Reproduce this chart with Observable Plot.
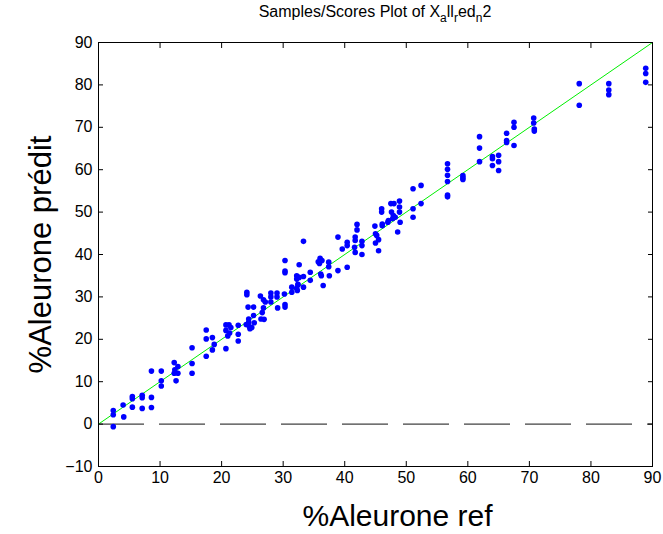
<!DOCTYPE html>
<html>
<head>
<meta charset="utf-8">
<script src="https://cdn.jsdelivr.net/npm/d3@7"></script>
<script src="https://cdn.jsdelivr.net/npm/@observablehq/plot@0.6"></script>
<style>
  html, body { margin: 0; padding: 0; background: #fff; }
  #wrap { position: relative; width: 663px; height: 534px; font-family: "Liberation Sans", Arial, Helvetica, sans-serif; }
  #title { position: absolute; left: 98px; width: 554px; top: 3px; text-align: center; font-size: 16px; color: #000; white-space: nowrap; }
  #title sub { font-size: 12px; vertical-align: -5px; line-height: 0; }
</style>
</head>
<body>
<div id="wrap">
  <div id="title">Samples/Scores Plot of X<sub>a</sub>ll<sub>r</sub>ed<sub>n</sub>2</div>
</div>
<script>
// reference values (x) and predicted values (y)
const refValues = [
  2.4, 2.4, 2.4, 4.0, 4.1, 5.5, 5.5, 5.5, 7.1, 7.1, 7.1, 8.6, 8.6, 8.6,
  10.2, 10.2, 10.2, 12.3, 12.9, 12.4, 12.3, 12.9, 12.6, 15.2, 15.2, 15.2,
  17.5, 17.5, 17.5, 18.5, 18.5, 18.8,
  20.7, 21.2, 20.7, 21.3, 20.7, 21.5, 21.0, 22.7, 22.7, 22.7,
  24.1, 24.1, 24.3, 25.2, 24.0, 24.5, 24.9, 24.4, 25.3, 24.6, 24.4, 25.2,
  26.3, 26.8, 27.1, 26.6, 26.8, 26.9, 26.4,
  28.0, 28.0, 29.0, 29.0, 28.0, 29.1,
  30.2, 30.3, 30.3, 30.3, 30.3, 30.3, 31.4, 31.4,
  32.2, 32.2, 32.4, 32.2, 32.3, 32.6, 32.6, 32.4, 33.3, 33.3, 33.3, 34.4, 34.4,
  35.7, 36.0, 36.3, 35.9, 36.1, 36.2, 36.5, 37.4, 37.4, 37.5,
  38.9, 38.9, 39.6, 40.4, 40.4, 40.4,
  41.7, 41.7, 42.0, 42.0, 41.6, 41.7, 42.8, 42.8, 42.8,
  44.9, 45.0, 45.2, 45.0, 45.5, 45.5,
  46.0, 46.0, 46.1, 46.1, 47.1, 47.5, 48.0, 47.6, 47.9, 48.2, 47.8, 47.0,
  48.6, 48.9, 48.9, 48.9, 49.0,
  51.1, 51.1, 51.1, 52.4, 52.4,
  56.7, 56.7, 56.7, 56.7, 56.7, 56.7, 59.2, 59.2, 59.2,
  61.9, 61.9, 61.9, 64.0, 64.0, 64.0, 65.0, 65.0, 65.0,
  66.3, 66.3, 66.3, 67.5, 67.5, 67.5, 70.7, 70.7, 70.8, 70.8,
  78.1, 78.1, 82.9, 82.9, 82.9, 88.9, 88.9, 88.9
];
const predValues = [
  3.2, 2.2, -0.6, 4.5, 1.7, 6.5, 6.0, 4.0, 6.8, 6.2, 3.7, 12.5, 6.3, 3.9,
  12.5, 10.2, 9.0, 14.5, 13.6, 12.8, 12.0, 12.0, 10.2, 18.0, 14.3, 12.0,
  22.2, 20.1, 16.0, 20.4, 17.5, 18.8,
  23.4, 23.4, 22.1, 21.5, 17.8, 22.8, 20.8, 23.3, 21.2, 19.6,
  31.1, 30.5, 27.6, 27.6, 23.5, 23.0, 22.8, 24.0, 23.9, 22.5, 24.8, 25.6,
  30.2, 29.3, 28.8, 26.3, 27.4, 24.7, 24.8,
  30.9, 30.0, 30.9, 30.0, 28.8, 27.4,
  30.7, 28.2, 27.6, 38.6, 36.1, 35.7, 32.3, 31.1,
  35.0, 34.2, 33.0, 32.0, 31.5, 34.6, 37.6, 32.8, 43.1, 32.3, 34.8, 35.8, 33.9,
  38.3, 39.1, 38.6, 37.9, 35.4, 35.0, 32.7, 38.2, 37.1, 35.0,
  44.1, 36.2, 41.3, 42.9, 42.1, 37.0,
  44.1, 43.3, 47.1, 45.8, 41.7, 40.5, 43.1, 42.1, 40.0,
  46.7, 44.9, 44.5, 42.7, 43.5, 40.9,
  50.8, 50.0, 47.2, 46.8, 48.0, 52.0, 52.0, 50.0, 49.2, 48.8, 48.5, 47.6,
  45.3, 52.6, 51.2, 50.0, 47.6,
  55.5, 50.8, 48.8, 56.3, 52.0,
  61.4, 60.1, 58.7, 57.2, 54.0, 53.6, 58.6, 58.1, 57.7,
  67.8, 65.1, 61.9, 63.1, 62.6, 61.0, 63.4, 61.9, 59.8,
  68.6, 66.9, 66.4, 71.2, 70.0, 65.7, 72.2, 71.0, 69.6, 69.1,
  80.3, 75.2, 80.3, 78.8, 77.7, 83.9, 82.7, 80.6
];
const xTicks = [0, 10, 20, 30, 40, 50, 60, 70, 80, 90];
const yTicks = [-10, 0, 10, 20, 30, 40, 50, 60, 70, 80, 90];
const identityLine = [0, 90];
const zeroLine = [0];
const xLabel = "%Aleurone ref";
const yLabel = "%Aleurone prédit";

const samples = refValues.map((r, i) => ({ref: r, pred: predValues[i]}));
const noText = () => "";

const chart = Plot.plot({
  width: 663,
  height: 534,
  marginLeft: 98,
  marginRight: 11,
  marginTop: 42,
  marginBottom: 68,
  style: {fontFamily: '"Liberation Sans", Arial, Helvetica, sans-serif', fontSize: "16px", color: "#000", background: "transparent", overflow: "visible"},
  x: {domain: [0, 90], label: null},
  y: {domain: [-10, 90], label: null},
  marks: [
    Plot.ruleY(zeroLine, {x1: 0, x2: 90, stroke: "#111", strokeWidth: 1, strokeDasharray: "46,15"}),
    Plot.line(identityLine, {x: d => d, y: d => d, stroke: "#00ee00", strokeWidth: 1}),
    Plot.dot(samples, {x: "ref", y: "pred", r: 2.8, fill: "#0000ff", stroke: "none"}),
    Plot.frame({stroke: "#000", strokeWidth: 1}),
    // tick labels
    Plot.axisX(xTicks, {anchor: "bottom", tickSize: 0, tickPadding: 5, label: null}),
    Plot.axisY(yTicks, {anchor: "left", tickSize: 0, tickPadding: 6, label: null}),
    // inward ticks on all four sides
    Plot.axisX(xTicks, {anchor: "bottom", tickSize: -5, tickFormat: noText, label: null, stroke: "#000"}),
    Plot.axisX(xTicks, {anchor: "top", tickSize: -5, tickFormat: noText, label: null, stroke: "#000"}),
    Plot.axisY(yTicks, {anchor: "left", tickSize: -5, tickFormat: noText, label: null, stroke: "#000"}),
    Plot.axisY(yTicks, {anchor: "right", tickSize: -5, tickFormat: noText, label: null, stroke: "#000"}),
    // axis titles
    Plot.text([xLabel], {frameAnchor: "bottom", textAnchor: "middle", lineAnchor: "middle", dx: 22, dy: 50, fontSize: 30, fill: "#000", text: d => d}),
    Plot.text([yLabel], {frameAnchor: "left", textAnchor: "middle", lineAnchor: "middle", dx: -57, dy: 0, rotate: -90, fontSize: 31, fill: "#000", text: d => d})
  ]
});
chart.style.position = "absolute";
chart.style.left = "0px";
chart.style.top = "0px";
document.getElementById("wrap").appendChild(chart);
</script>
</body>
</html>
